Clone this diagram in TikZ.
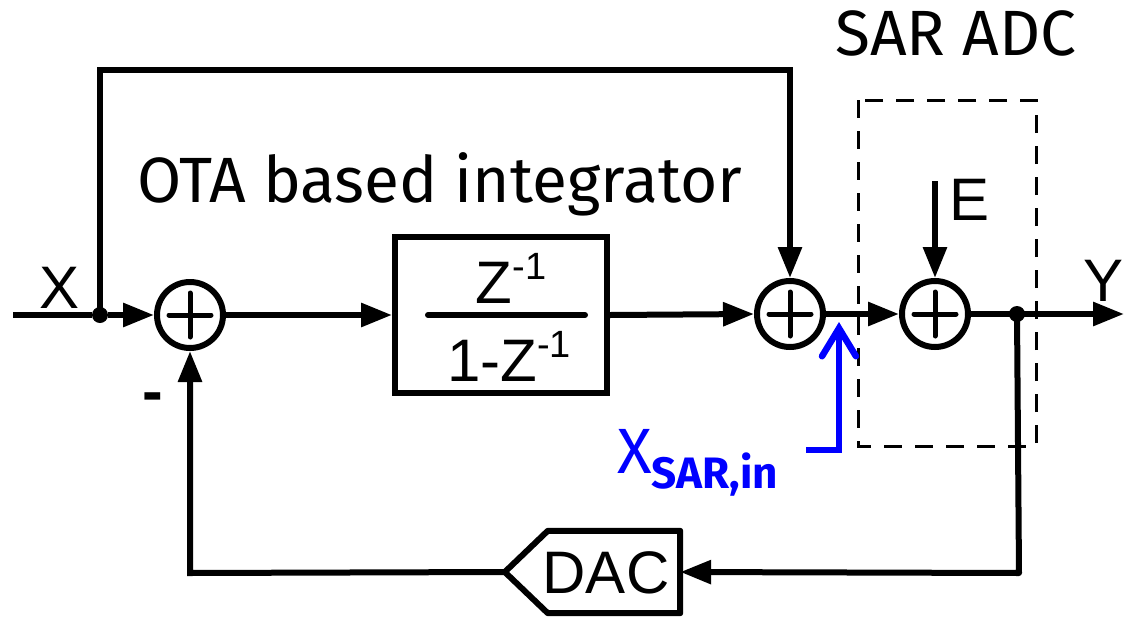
\documentclass[tikz,border=0pt]{standalone}
\usepackage{fontspec}
\setmainfont{Liberation Sans}
\newfontfamily\hum{Fira Sans}
\usetikzlibrary{arrows.meta}
\definecolor{sarblue}{RGB}{0,0,255}
\newcommand{\supm}{\raisebox{24pt}{\fontsize{38}{40}\selectfont -1}}
\begin{document}
\begin{tikzpicture}[x=1pt,y=-1pt,
  wire/.style={line width=6pt},
  arr/.style={wire,-{Triangle[length=31pt,width=23pt]}},
  adder/.style={circle,draw,line width=6pt,minimum size=66pt,inner sep=0pt},
  plus/.style={line width=5pt,line cap=round},
  dot/.style={circle,fill,inner sep=0pt,minimum size=16pt},
  arial/.style={font=\fontsize{60}{70}\selectfont},
  humtxt/.style={font=\hum\fontsize{64}{76}\selectfont},
  dashbox/.style={line width=3pt,dash pattern=on 18pt off 13pt},
  bluearr/.style={draw=sarblue,line width=6.5pt,-{Straight Barb[length=28pt,width=34pt,line cap=round]}}]
\useasboundingbox (0,0) rectangle (1128,619);

% SAR ADC dashed box
\draw[dashbox] (858,100) rectangle (1036,446);

% blocks
\node[adder] (a1) at (190,315) {};
\node[draw,line width=6pt,minimum width=212pt,minimum height=156pt,inner sep=0pt] (int) at (501,315) {};
\node[adder] (a3) at (790,314) {};
\node[adder] (a4) at (935,314) {};
\foreach \n in {a1,a3,a4}{
  \draw[plus] (\n.center) ++(-21,0) -- ++(42,0);
  \draw[plus] (\n.center) ++(0,-22) -- ++(0,44);
}
\draw[line width=6pt,line cap=round] (428,315) -- (585,315);
\node[arial,anchor=base,xshift=10pt] (num) at (501,303) {Z\supm};
\node[arial,anchor=base,xshift=8pt] (den) at (501,381) {1-Z\supm};

% DAC
\node[minimum width=175pt,minimum height=82pt,inner sep=0pt] (dac) at (592.5,572) {};
\draw[wire,line join=round] (dac.north east) -- (dac.south east) -- ([xshift=43pt]dac.south west) -- (dac.west) -- ([xshift=43pt]dac.north west) -- cycle;
\node[arial,anchor=base] (daclbl) at (606,593) {DAC};

% coordinates
\coordinate (xin) at (13,315);
\node[dot] (j1) at (100,315) {};
\coordinate (ff1) at (100,70);
\coordinate (ff2) at (790,70);
\node[dot] (j2) at (1017,314) {};
\coordinate (yout) at (1124,314);
\coordinate (fb1) at (1019,573);
\coordinate (fb2) at (190,573);
\coordinate (e0) at (935,181);

% wires
\draw[wire] (xin) -- (j1);
\draw[arr] (j1) -- (a1.west);
\draw[arr,line join=miter] (j1.center) -- (ff1) -- (ff2) -- (a3.north);
\draw[arr] (a1.east) -- (int.west);
\draw[arr] (int.east) -- (a3.west);
\draw[arr] (a3.east) -- (a4.west);
\draw[arr] (a4.east) -- (yout);
\draw[arr] (e0) -- (a4.north);
\draw[arr,line join=round] (j2.center) -- (fb1) -- (dac.east);
\draw[arr,line join=miter] (dac.west) -- (fb2) -- (a1.south);

% blue marker
\coordinate (b0) at (806,450);
\coordinate (b1) at (839,450);
\coordinate (b2) at (839,322);
\draw[bluearr] (b0) -- (b1) -- (b2);

% labels
\node[arial,anchor=base] (xl) at (60,308) {X};
\node[arial,anchor=base] (yl) at (1103,301) {Y};
\node[arial,anchor=base] (el) at (970,220) {E};
\node[font=\bfseries\fontsize{62}{70}\selectfont,anchor=base] (minus) at (153,412) {-};
\node[humtxt,anchor=base] (ota) at (440,202) {OTA based integrator};
\node[humtxt,anchor=base] (sar) at (956,55) {SAR ADC};
\node[anchor=base west,inner sep=0pt,text=sarblue] (xsar) at (617,473) {{\hum\fontsize{64}{70}\selectfont X}\raisebox{-15pt}{\hum\bfseries\fontsize{44}{48}\selectfont SAR,in}};
\end{tikzpicture}
\end{document}
